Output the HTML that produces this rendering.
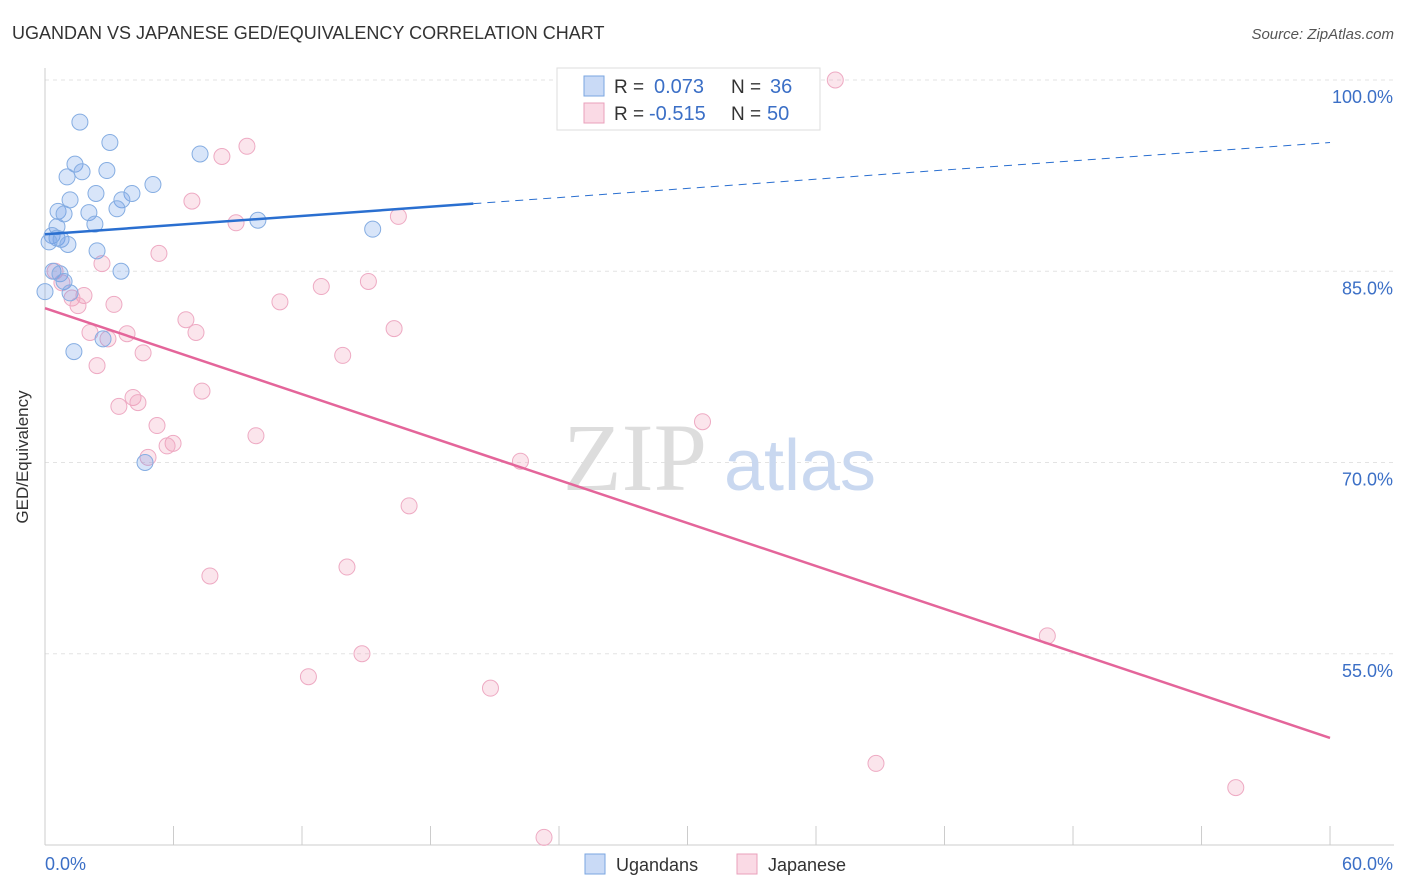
<!DOCTYPE html>
<html><head><meta charset="utf-8"><style>
body{margin:0;background:#fff;font-family:"Liberation Sans",sans-serif}
svg{display:block}
</style></head><body>
<svg id="chart" width="1406" height="892" xmlns="http://www.w3.org/2000/svg">
<text x="12" y="39" font-size="18" fill="#333">UGANDAN VS JAPANESE GED/EQUIVALENCY CORRELATION CHART</text>
<text x="1394" y="39" font-size="15" fill="#555" font-style="italic" text-anchor="end">Source: ZipAtlas.com</text>
<g id="grid"></g>
<g>
<text x="635" y="490" font-size="96" font-family="Liberation Serif,serif" fill="#ddd" text-anchor="middle">ZIP</text>
<text x="800" y="490" font-size="72" fill="#c9d8f0" text-anchor="middle">atlas</text>
</g>
<g id="axes"></g>
<g id="points"></g>
<g id="trends"></g>
<text x="28" y="457" font-size="17" fill="#333" text-anchor="middle" transform="rotate(-90 28 457)">GED/Equivalency</text>
<g>
<rect x="557" y="68" width="263" height="62" fill="#fff" stroke="#ddd"/>
<rect x="584" y="76" width="20" height="20" fill="rgba(100,150,230,0.35)" stroke="#7aa6e0"/>
<rect x="584" y="103" width="20" height="20" fill="rgba(240,150,180,0.35)" stroke="#eaa0bb"/>
<text x="614" y="93" font-size="19" fill="#333">R =</text>
<text x="654" y="93" font-size="20" fill="#3b6fc6">0.073</text>
<text x="731" y="93" font-size="19" fill="#333">N =</text>
<text x="770" y="93" font-size="20" fill="#3b6fc6">36</text>
<text x="614" y="120" font-size="19" fill="#333">R =</text>
<text x="649" y="120" font-size="20" fill="#3b6fc6">-0.515</text>
<text x="731" y="120" font-size="19" fill="#333">N =</text>
<text x="767" y="120" font-size="20" fill="#3b6fc6">50</text>
</g>
<g>
<rect x="585" y="854" width="20" height="20" fill="rgba(100,150,230,0.35)" stroke="#7aa6e0"/>
<text x="616" y="871" font-size="18" fill="#333">Ugandans</text>
<rect x="737" y="854" width="20" height="20" fill="rgba(240,150,180,0.35)" stroke="#eaa0bb"/>
<text x="768" y="871" font-size="18" fill="#333">Japanese</text>
</g>
</svg>
<script>
const yTicks=[100,85,70,55];
const yTickLabels=["100.0%","85.0%","70.0%","55.0%"];
const blueX=[1.63,3.03,1.40,1.73,2.89,1.03,7.24,5.04,2.38,4.06,1.17,3.59,0.61,2.05,0.89,3.36,9.94,2.33,0.56,15.3,0.33,0.56,0.75,0.19,1.07,2.43,3.55,0.37,0.70,0.89,1.17,0,2.71,1.35,4.67];
const blueY=[96.7,95.1,93.4,92.8,92.9,92.4,94.2,91.8,91.1,91.1,90.6,90.6,89.7,89.6,89.5,89.9,89.0,88.7,88.5,88.3,87.8,87.6,87.5,87.3,87.1,86.6,85.0,85.0,84.8,84.2,83.3,83.4,79.7,78.7,70.0];
const pinkX=[36.9,9.43,8.26,6.86,8.92,16.5,5.32,2.66,15.1,0.47,0.79,12.9,1.82,1.26,10.97,3.22,1.54,6.58,16.3,2.1,7.05,3.83,2.94,4.58,13.9,2.43,7.33,4.11,4.34,3.45,5.23,30.7,9.85,5.98,5.70,4.81,22.2,17.0,7.70,14.1,14.8,46.8,12.3,20.8,38.8,55.6,23.3];
const pinkY=[100,94.8,94.0,90.5,88.8,89.3,86.4,85.6,84.2,85.0,84.1,83.8,83.1,82.9,82.6,82.4,82.3,81.2,80.5,80.2,80.2,80.1,79.7,78.6,78.4,77.6,75.6,75.1,74.7,74.4,72.9,73.2,72.1,71.5,71.3,70.4,70.1,66.6,61.1,61.8,55.0,56.4,53.2,52.3,46.4,44.5,40.6];
const blueTrend=[87.9,95.1]; const blueSolidEnd=20;
const pinkTrend=[82.1,48.4];
const NS="http://www.w3.org/2000/svg";
const X=v=>45+v*21.417, Y=v=>80+(100-v)*12.75;
function mk(t,a,p){const e=document.createElementNS(NS,t);for(const k in a)e.setAttribute(k,a[k]);p.appendChild(e);return e;}
const grid=document.getElementById('grid'),axes=document.getElementById('axes');
yTicks.forEach((t,i)=>{
 const l=mk('line',{x1:45,x2:1394,y1:Y(t),y2:Y(t),stroke:'#e3e3e3','stroke-dasharray':'4,4'},grid);
 
 
 const tx=mk('text',{x:1393,y:Y(t)+23,'font-size':18,fill:'#3b6fc6','text-anchor':'end'},axes);
 tx.textContent=yTickLabels[i];
 
 
});
mk('line',{x1:45,x2:45,y1:68,y2:845,stroke:'#ccc'},axes);
mk('line',{x1:45,x2:1394,y1:845,y2:845,stroke:'#ccc'},axes);
for(let i=0;i<=10;i++){const t=mk('line',{x1:X(i*6),x2:X(i*6),y1:826,y2:845,stroke:'#ccc'},axes);}
const xl=mk('text',{x:45,y:870,'font-size':18,fill:'#3b6fc6'},axes);xl.textContent='0.0%';

const xr=mk('text',{x:1393,y:870,'font-size':18,fill:'#3b6fc6','text-anchor':'end'},axes);xr.textContent='60.0%';

const pts=document.getElementById('points');
pinkX.forEach((x,i)=>{const c=mk('circle',{cx:X(x),cy:Y(pinkY[i]),r:8,fill:'rgba(240,150,180,0.25)',stroke:'#eeaac3','stroke-width':1},pts);
 
 });
blueX.forEach((x,i)=>{const c=mk('circle',{cx:X(x),cy:Y(blueY[i]),r:8,fill:'rgba(100,150,230,0.25)',stroke:'#85ade2','stroke-width':1},pts);
 
 });
const tr=document.getElementById('trends');
const by=x=>blueTrend[0]+(blueTrend[1]-blueTrend[0])*x/60;
let l1=mk('line',{x1:X(0),y1:Y(by(0)),x2:X(blueSolidEnd),y2:Y(by(blueSolidEnd)),stroke:'#2a6fd0','stroke-width':2.5},tr);


let l2=mk('line',{x1:X(blueSolidEnd),y1:Y(by(blueSolidEnd)),x2:X(60),y2:Y(by(60)),stroke:'#2a6fd0','stroke-width':1,'stroke-dasharray':'8,6'},tr);


let l3=mk('line',{x1:X(0),y1:Y(pinkTrend[0]),x2:X(60),y2:Y(pinkTrend[1]),stroke:'#e4659a','stroke-width':2.5},tr);


</script>
</body></html>
